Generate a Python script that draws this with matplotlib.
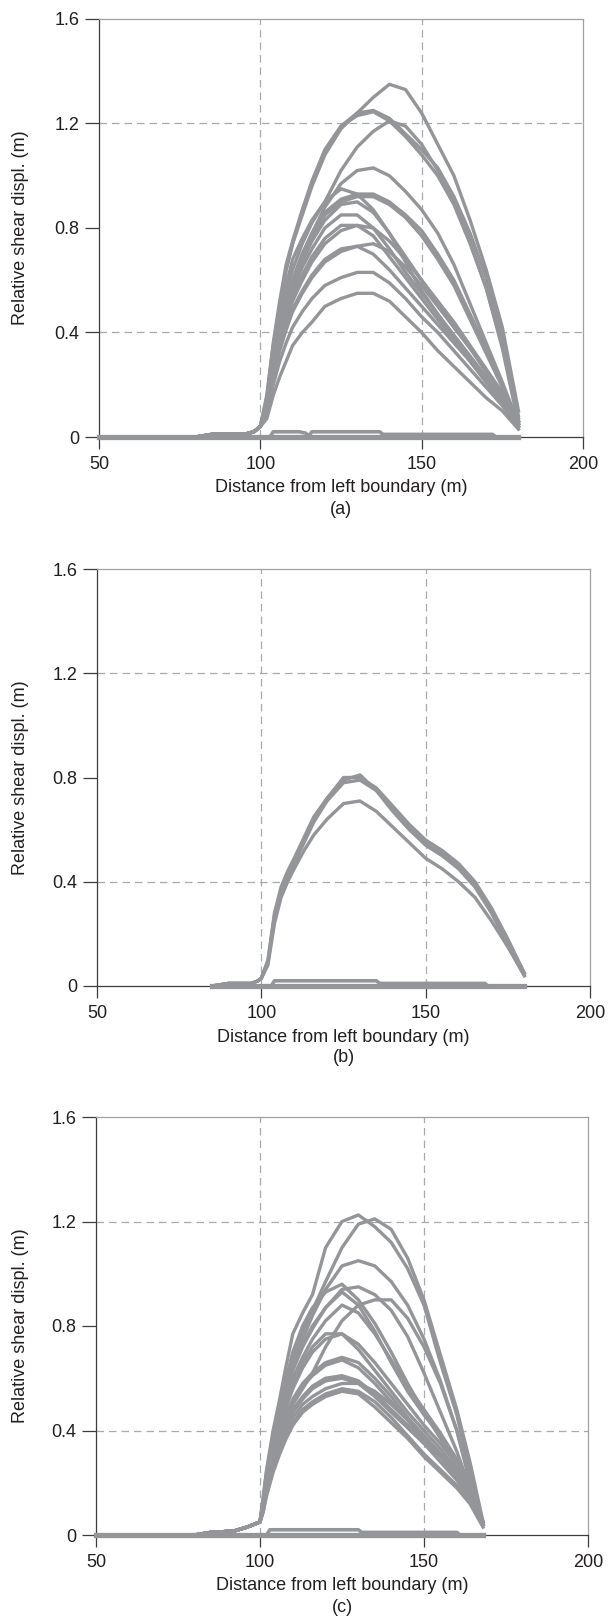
import matplotlib.pyplot as plt

plt.rcParams['font.family'] = ['Liberation Sans', 'DejaVu Sans']
plt.rcParams['font.size'] = 13

# ---------------- panel (a) ----------------
a_base_x = [50, 80, 85, 95, 98]
a_base_y = [0, 0, 0.01, 0.01, 0.02]
a_x = [100, 102, 104, 106, 108, 110, 113, 116, 120, 125, 130, 135, 140, 145, 150, 155, 160, 165, 170, 175, 180]
a_disp = [
    [0.04, 0.15, 0.35, 0.50, 0.64, 0.74, 0.85, 0.96, 1.08, 1.18, 1.24, 1.30, 1.35, 1.33, 1.24, 1.12, 1.00, 0.83, 0.64, 0.42, 0.10],
    [0.04, 0.16, 0.36, 0.52, 0.66, 0.75, 0.87, 0.98, 1.10, 1.19, 1.24, 1.25, 1.22, 1.16, 1.10, 1.03, 0.92, 0.78, 0.61, 0.38, 0.08],
    [0.04, 0.14, 0.34, 0.50, 0.64, 0.74, 0.86, 0.97, 1.09, 1.19, 1.23, 1.245, 1.21, 1.15, 1.08, 1.00, 0.89, 0.74, 0.57, 0.35, 0.06],
    [0.04, 0.13, 0.32, 0.46, 0.58, 0.68, 0.76, 0.83, 0.90, 1.02, 1.11, 1.17, 1.21, 1.19, 1.12, 1.02, 0.90, 0.75, 0.57, 0.34, 0.05],
    [0.04, 0.12, 0.30, 0.42, 0.52, 0.60, 0.70, 0.78, 0.88, 0.97, 1.02, 1.03, 1.00, 0.94, 0.87, 0.78, 0.66, 0.51, 0.36, 0.21, 0.05],
    [0.04, 0.13, 0.32, 0.45, 0.56, 0.64, 0.74, 0.82, 0.90, 0.95, 0.93, 0.87, 0.78, 0.67, 0.56, 0.47, 0.38, 0.30, 0.22, 0.14, 0.06],
    [0.04, 0.12, 0.30, 0.42, 0.52, 0.60, 0.70, 0.78, 0.86, 0.91, 0.93, 0.93, 0.90, 0.85, 0.79, 0.70, 0.60, 0.47, 0.34, 0.20, 0.05],
    [0.04, 0.12, 0.29, 0.41, 0.51, 0.59, 0.69, 0.77, 0.85, 0.90, 0.92, 0.92, 0.89, 0.84, 0.77, 0.68, 0.58, 0.45, 0.32, 0.19, 0.04],
    [0.04, 0.11, 0.28, 0.40, 0.50, 0.58, 0.67, 0.75, 0.83, 0.89, 0.90, 0.86, 0.78, 0.69, 0.60, 0.51, 0.42, 0.34, 0.25, 0.16, 0.06],
    [0.04, 0.11, 0.27, 0.38, 0.48, 0.56, 0.65, 0.72, 0.80, 0.85, 0.85, 0.80, 0.72, 0.63, 0.55, 0.47, 0.39, 0.31, 0.23, 0.15, 0.05],
    [0.04, 0.10, 0.26, 0.37, 0.46, 0.54, 0.62, 0.69, 0.76, 0.81, 0.81, 0.77, 0.69, 0.61, 0.53, 0.45, 0.37, 0.29, 0.21, 0.13, 0.04],
    [0.04, 0.10, 0.25, 0.36, 0.45, 0.52, 0.60, 0.67, 0.74, 0.79, 0.81, 0.80, 0.75, 0.68, 0.60, 0.52, 0.44, 0.35, 0.26, 0.17, 0.07],
    [0.04, 0.10, 0.24, 0.34, 0.42, 0.49, 0.56, 0.62, 0.68, 0.72, 0.73, 0.70, 0.64, 0.57, 0.50, 0.43, 0.36, 0.29, 0.21, 0.14, 0.05],
    [0.04, 0.09, 0.23, 0.33, 0.41, 0.48, 0.55, 0.61, 0.67, 0.71, 0.73, 0.74, 0.71, 0.65, 0.58, 0.50, 0.42, 0.34, 0.25, 0.16, 0.06],
    [0.04, 0.08, 0.20, 0.29, 0.36, 0.42, 0.48, 0.53, 0.58, 0.61, 0.63, 0.63, 0.59, 0.53, 0.46, 0.40, 0.33, 0.26, 0.19, 0.12, 0.04],
    [0.04, 0.07, 0.16, 0.23, 0.29, 0.35, 0.40, 0.44, 0.50, 0.53, 0.55, 0.55, 0.52, 0.46, 0.40, 0.33, 0.27, 0.21, 0.15, 0.10, 0.03],
]
a_flat_x = [100, 103, 104, 112, 114, 115, 116, 137, 138, 172, 173, 180]
a_flat_y = [0, 0, 0.02, 0.02, 0.015, 0.005, 0.02, 0.02, 0.01, 0.01, 0, 0]
a_zero_x = [50, 180]

# ---------------- panel (b) ----------------
b_base_x = [85, 90, 97, 99]
b_base_y = [0, 0.01, 0.01, 0.02]
b_x = [100, 102, 104, 106, 108, 110, 113, 116, 120, 125, 130, 135, 140, 145, 150, 155, 160, 165, 170, 175, 180]
b_disp = [
    [0.03, 0.10, 0.28, 0.38, 0.44, 0.49, 0.57, 0.65, 0.72, 0.80, 0.80, 0.76, 0.69, 0.62, 0.56, 0.52, 0.47, 0.40, 0.30, 0.18, 0.05],
    [0.03, 0.09, 0.27, 0.37, 0.43, 0.48, 0.56, 0.64, 0.72, 0.79, 0.81, 0.75, 0.68, 0.61, 0.55, 0.51, 0.46, 0.39, 0.29, 0.17, 0.05],
    [0.03, 0.09, 0.26, 0.36, 0.42, 0.47, 0.55, 0.63, 0.71, 0.78, 0.79, 0.75, 0.67, 0.60, 0.54, 0.50, 0.45, 0.38, 0.28, 0.16, 0.04],
    [0.03, 0.08, 0.24, 0.34, 0.40, 0.45, 0.52, 0.58, 0.64, 0.70, 0.71, 0.67, 0.61, 0.55, 0.49, 0.45, 0.40, 0.34, 0.25, 0.15, 0.04],
]
b_flat_x = [100, 103, 104, 135, 136, 168, 169, 180]
b_flat_y = [0, 0, 0.02, 0.02, 0.01, 0.01, 0, 0]
b_zero_x = [85, 180]

# ---------------- panel (c) ----------------
c_base_x = [50, 80, 85, 92, 96, 99]
c_base_y = [0, 0, 0.01, 0.015, 0.03, 0.045]
c_x = [100, 101, 102, 104, 106, 108, 110, 113, 116, 120, 125, 130, 135, 140, 145, 150, 155, 160, 164, 168]
c_disp = [
    [0.05, 0.15, 0.25, 0.40, 0.52, 0.65, 0.77, 0.85, 0.92, 1.10, 1.20, 1.225, 1.18, 1.12, 1.02, 0.88, 0.66, 0.46, 0.24, 0.04],
    [0.05, 0.14, 0.24, 0.38, 0.50, 0.60, 0.68, 0.78, 0.86, 0.97, 1.10, 1.19, 1.21, 1.17, 1.06, 0.90, 0.69, 0.48, 0.28, 0.05],
    [0.05, 0.13, 0.22, 0.35, 0.45, 0.56, 0.65, 0.75, 0.84, 0.94, 1.03, 1.05, 1.03, 0.97, 0.88, 0.75, 0.59, 0.40, 0.20, 0.04],
    [0.05, 0.13, 0.22, 0.36, 0.48, 0.60, 0.70, 0.80, 0.87, 0.93, 0.96, 0.90, 0.81, 0.70, 0.58, 0.47, 0.37, 0.26, 0.16, 0.04],
    [0.05, 0.12, 0.21, 0.34, 0.45, 0.55, 0.63, 0.72, 0.79, 0.87, 0.94, 0.95, 0.92, 0.86, 0.76, 0.62, 0.47, 0.32, 0.18, 0.04],
    [0.05, 0.12, 0.21, 0.34, 0.45, 0.55, 0.64, 0.73, 0.80, 0.87, 0.93, 0.88, 0.78, 0.66, 0.55, 0.46, 0.38, 0.28, 0.18, 0.05],
    [0.05, 0.11, 0.19, 0.30, 0.38, 0.45, 0.50, 0.56, 0.62, 0.72, 0.82, 0.88, 0.90, 0.90, 0.83, 0.72, 0.58, 0.40, 0.22, 0.05],
    [0.05, 0.12, 0.20, 0.33, 0.43, 0.52, 0.60, 0.68, 0.75, 0.82, 0.88, 0.85, 0.77, 0.67, 0.57, 0.48, 0.39, 0.29, 0.19, 0.05],
    [0.05, 0.12, 0.20, 0.32, 0.42, 0.51, 0.58, 0.66, 0.72, 0.77, 0.77, 0.71, 0.63, 0.55, 0.47, 0.40, 0.33, 0.25, 0.16, 0.04],
    [0.05, 0.11, 0.19, 0.31, 0.41, 0.49, 0.56, 0.64, 0.70, 0.75, 0.77, 0.73, 0.66, 0.58, 0.50, 0.42, 0.35, 0.27, 0.18, 0.05],
    [0.05, 0.11, 0.19, 0.30, 0.39, 0.46, 0.52, 0.58, 0.62, 0.66, 0.68, 0.66, 0.60, 0.53, 0.45, 0.38, 0.31, 0.24, 0.16, 0.04],
    [0.05, 0.10, 0.18, 0.29, 0.38, 0.45, 0.51, 0.57, 0.61, 0.65, 0.67, 0.64, 0.58, 0.51, 0.44, 0.36, 0.30, 0.23, 0.15, 0.04],
    [0.05, 0.10, 0.18, 0.28, 0.36, 0.43, 0.48, 0.53, 0.57, 0.60, 0.61, 0.59, 0.54, 0.48, 0.42, 0.36, 0.30, 0.22, 0.14, 0.04],
    [0.05, 0.10, 0.17, 0.27, 0.35, 0.42, 0.47, 0.52, 0.56, 0.59, 0.60, 0.58, 0.53, 0.47, 0.41, 0.35, 0.28, 0.21, 0.14, 0.04],
    [0.05, 0.10, 0.17, 0.26, 0.33, 0.40, 0.45, 0.50, 0.53, 0.56, 0.58, 0.58, 0.55, 0.50, 0.44, 0.38, 0.31, 0.23, 0.14, 0.04],
    [0.05, 0.09, 0.16, 0.25, 0.32, 0.38, 0.43, 0.48, 0.51, 0.54, 0.56, 0.55, 0.51, 0.45, 0.38, 0.31, 0.25, 0.19, 0.13, 0.04],
    [0.05, 0.09, 0.15, 0.24, 0.31, 0.37, 0.42, 0.47, 0.50, 0.53, 0.55, 0.54, 0.49, 0.43, 0.37, 0.30, 0.24, 0.18, 0.12, 0.03],
]
c_flat_x = [100, 102, 103, 130, 131, 160, 161, 168]
c_flat_y = [0, 0, 0.02, 0.02, 0.01, 0.01, 0, 0]
c_zero_x = [50, 168]

x_ticks = [50, 100, 150, 200]
y_ticks = [0, 0.4, 0.8, 1.2, 1.6]
y_ticklabels = ['0', '0.4', '0.8', '1.2', '1.6']

GRAY = '#939598'
DARK = '#3c3c3e'
W, H = 608, 1618

fig = plt.figure(figsize=(W / 100, H / 100), dpi=100)


def draw_panel(box, base_x, base_y, xs, disp, flat_x, flat_y, zero_x, tag):
    left, top, right, bottom = box
    wpx, hpx = right - left, bottom - top
    ax = fig.add_axes([left / W, (H - bottom) / H, wpx / W, hpx / H])

    # dashed reference lines
    for gx in [100, 150]:
        ax.axvline(gx, color='#a7a9ac', lw=0.9, ls=(0, (6, 4)), zorder=1)
    for gy in [0.4, 1.2]:
        ax.axhline(gy, color='#a7a9ac', lw=0.9, ls=(0, (6, 4)), zorder=1)

    ax.plot(zero_x, [0, 0], color=GRAY, lw=3.8, zorder=3, clip_on=False)
    ax.plot(flat_x, flat_y, color=GRAY, lw=2.6, zorder=3, clip_on=False)
    for ys in disp:
        ax.plot(base_x + xs, base_y + ys, color=GRAY, lw=2.4, zorder=3,
                solid_joinstyle='round')

    ax.set_xlim(50, 200)
    ax.set_ylim(0, 1.6)
    ax.set_xticks(x_ticks)
    ax.set_yticks(y_ticks)
    ax.set_yticklabels(y_ticklabels)
    ax.tick_params(axis='y', direction='out', length=10, width=0.9, pad=4,
                   color=DARK, labelcolor='#231f20', labelsize=13)
    ax.tick_params(axis='x', direction='out', length=8.6, width=0.9, pad=5,
                   color=DARK, labelcolor='#231f20', labelsize=13)
    for s in ['left', 'bottom']:
        ax.spines[s].set_color(DARK)
        ax.spines[s].set_linewidth(0.9)
    for s in ['top', 'right']:
        ax.spines[s].set_color('#a0a0a0')
        ax.spines[s].set_linewidth(0.9)

    ax.set_ylabel('Relative shear displ. (m)', fontsize=13, color='#231f20', va='center')
    ax.yaxis.set_label_coords(-(left - 21) / wpx, 0.5)
    ax.set_xlabel('Distance from left boundary (m)', fontsize=13, color='#231f20', va='center')
    ax.xaxis.set_label_coords(0.5, -51 / hpx)
    ax.text(0.5, -72 / hpx, tag, transform=ax.transAxes, ha='center', va='center',
            fontsize=13, color='#231f20')
    return ax


draw_panel((99, 19, 583, 437), a_base_x, a_base_y, a_x, a_disp, a_flat_x, a_flat_y, a_zero_x, '(a)')
draw_panel((97, 569, 590, 986), b_base_x, b_base_y, b_x, b_disp, b_flat_x, b_flat_y, b_zero_x, '(b)')
draw_panel((96, 1117, 588, 1535), c_base_x, c_base_y, c_x, c_disp, c_flat_x, c_flat_y, c_zero_x, '(c)')

fig.savefig('out.png', dpi=100)
